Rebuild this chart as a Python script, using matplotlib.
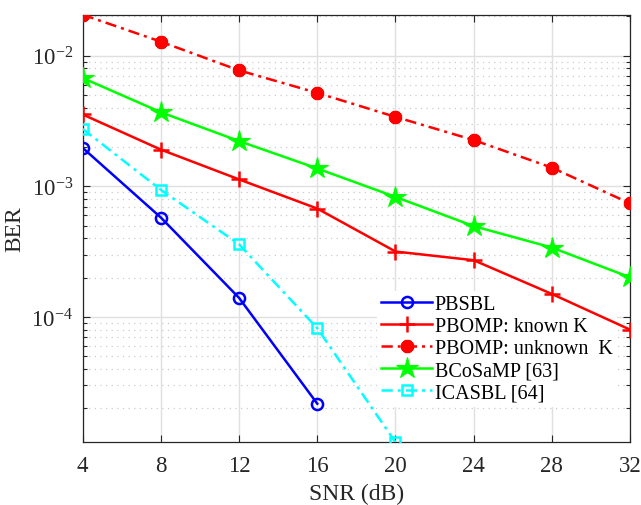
import matplotlib
matplotlib.use("Agg")
import matplotlib.pyplot as plt
from matplotlib.ticker import LogLocator, NullFormatter

snr = [4, 8, 12, 16, 20, 24, 28, 32]

pbsbl = [1.97e-3, 5.77e-4, 1.40e-4, 2.17e-5]
pbomp_known = [3.55e-3, 1.91e-3, 1.13e-3, 6.76e-4, 3.17e-4, 2.72e-4, 1.50e-4, 8.0e-5]
pbomp_unknown = [2.06e-2, 1.28e-2, 7.72e-3, 5.19e-3, 3.40e-3, 2.26e-3, 1.39e-3, 7.4e-4]
bcosamp = [6.75e-3, 3.69e-3, 2.22e-3, 1.37e-3, 8.3e-4, 4.96e-4, 3.40e-4, 2.01e-4]
icasbl = [2.75e-3, 9.4e-4, 3.6e-4, 8.2e-5, 1.10e-5]

labels = ["PBSBL", "PBOMP: known K", "PBOMP: unknown  K", "BCoSaMP [63]", "ICASBL [64]"]
xticks = [4, 8, 12, 16, 20, 24, 28, 32]

plt.rcParams["font.family"] = ["Liberation Serif", "DejaVu Serif"]
plt.rcParams["mathtext.fontset"] = "stix"

fig = plt.figure(figsize=(6.41, 5.06), dpi=100)
ax = fig.add_axes([0.129, 0.124, 0.854, 0.845])

lw = 1.8
dashdot = (4.5, 2, 1.2, 2)
ax.plot(snr[:len(pbsbl)], pbsbl, color="#0000ff", lw=lw, marker="o", ms=8,
        mfc="none", mew=1.8, label=labels[0], zorder=5)
ax.plot(snr, pbomp_known, color="#ff0000", lw=lw, marker="+", ms=11,
        mew=1.8, label=labels[1], zorder=5)
ax.plot(snr, pbomp_unknown, color="#ff0000", lw=lw, marker=(8, 2, 0), ms=9.5,
        mew=3.0, dashes=dashdot, label=labels[2], zorder=5)
ax.plot(snr, bcosamp, color="#00ff00", lw=lw, marker="*", ms=16,
        mew=0.8, mfc="#00ff00", label=labels[3], zorder=5)
ax.plot(snr[:len(icasbl)], icasbl, color="#00ffff", lw=lw, marker="s", ms=7,
        mfc="none", mew=1.8, dashes=dashdot, label=labels[4], zorder=5)

ax.set_yscale("log")
ax.set_xlim(4, 32)
ax.set_ylim(icasbl[-1], pbomp_unknown[0])
ax.set_xticks(xticks)
ax.set_xticklabels([str(t) for t in xticks])
ax.yaxis.set_major_locator(LogLocator(base=10, numticks=10))
ax.yaxis.set_minor_locator(LogLocator(base=10, subs=range(2, 10), numticks=20))
ax.yaxis.set_minor_formatter(NullFormatter())

ax.grid(True, which="major", color="#e0e0e0", lw=1.0, ls="-", zorder=0)
ax.grid(True, which="minor", axis="y", color="#cccccc", lw=0.9, ls=(0, (1, 3.5)), zorder=0)
ax.set_axisbelow(True)

ax.tick_params(which="both", direction="in", top=True, right=True, color="#262626")
ax.tick_params(which="major", length=5, width=0.8, labelsize=16.5, labelcolor="#262626")
ax.tick_params(axis="x", which="major", pad=9)
ax.tick_params(axis="y", which="major", pad=7)
ax.tick_params(which="minor", length=3, width=0.8)
for s in ax.spines.values():
    s.set_color("#262626")
    s.set_linewidth(0.9)

ax.set_xlabel("SNR (dB)", fontsize=17, color="#262626", labelpad=5)
ax.set_ylabel("BER", fontsize=17, color="#262626", labelpad=4)

# legend box sits above the grid but beneath the data curves
leg = ax.legend(loc="lower left", bbox_to_anchor=(0.52, 0.06), fontsize=14.5,
                frameon=True, framealpha=1, edgecolor="none", facecolor="white",
                handlelength=2.5, handletextpad=0.15, labelspacing=0.15,
                borderpad=0.2, fancybox=False)
leg.set_zorder(4)

fig.savefig("out.png", dpi=100)
